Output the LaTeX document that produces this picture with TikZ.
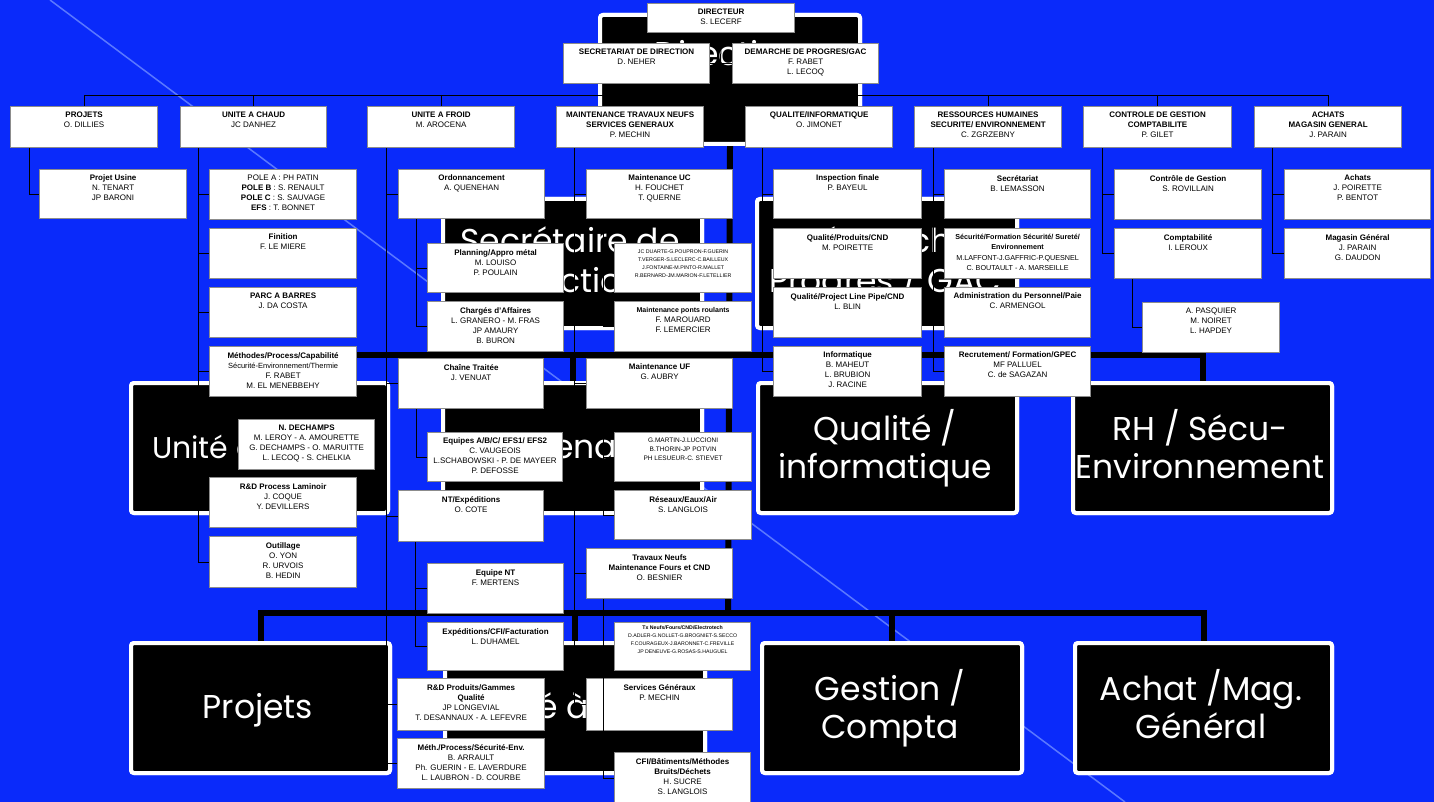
\documentclass[tikz,border=0pt]{standalone}
\usepackage{fontspec}
\setmainfont{Liberation Sans}
\newfontfamily\bigf{Poppins}
\usetikzlibrary{calc}
\definecolor{bg}{RGB}{10,42,250}
\definecolor{diagc}{RGB}{90,120,255}
\tikzset{
  obox/.style={draw=black!45, line width=1.2pt, fill=white, inner sep=0pt, rectangle},
  otext/.style={inner sep=0pt, align=center, font=\fontsize{8}{10}\selectfont, anchor=north},
  bbox/.style={draw=white, line width=4pt, fill=black, rounded corners=3pt, inner sep=0pt, rectangle},
  btext/.style={text=white, font=\bigf\fontsize{33}{38}\selectfont, inner sep=0pt, anchor=base},
  trunk/.style={line width=6pt, black},
  wire/.style={line width=1pt, black},
}
\newcommand\OB[7][]{%
  \node[obox, minimum width=#5pt, minimum height=#6pt, anchor=north west] (#2) at (#3,#4) {};
  \node[otext,#1] (#2t) at ([yshift=-6pt]#2.north) {#7};}
\newcommand\BB[5]{%
  \node[bbox, minimum width=#4pt, minimum height=#5pt, anchor=north west] (#1) at (#2,#3) {};}
\begin{document}
\begin{tikzpicture}[x=1pt,y=-1pt]
\useasboundingbox (0,0) rectangle (1434,802);
\fill[bg] (0,0) rectangle (1434,802);
\draw[diagc, line width=1.5pt] (50,0) -- (1125,802);

% ---------- background chart ----------
\coordinate (j2) at (728,355);
\coordinate (j3) at (728,613);
\BB{bdir}{598}{13}{260}{129}
\BB{bsec}{441}{197}{259}{129}
\BB{bdem}{755}{197}{260}{129}
\BB{buac}{129}{381}{257}{130}
\BB{bmtn}{441}{381}{259}{130}
\BB{bqual}{756}{381}{259}{130}
\BB{brh}{1071}{381}{259}{130}
\BB{bproj}{129}{641}{259}{130}
\BB{buaf}{443}{641}{260}{130}
\BB{bgest}{760}{641}{260}{130}
\BB{bach}{1073}{641}{257}{130}
\draw[trunk] (bdir.south) -- (j3);
\draw[trunk] (buac.north) |- (j2) -| (brh.north);
\draw[trunk] (bmtn.north) -- (bmtn.north |- j2);
\draw[trunk] (bqual.north) -- (bqual.north |- j2);
\draw[trunk] (bproj.north) |- (j3) -| (bach.north);
\draw[trunk] (buaf.north) -- (buaf.north |- j3);
\draw[trunk] (bgest.north) -- (bgest.north |- j3);
% boxes again over the trunk ends
\BB{bdir}{598}{13}{260}{129}
\BB{bsec}{441}{197}{259}{129}
\BB{bdem}{755}{197}{260}{129}
\BB{buac}{129}{381}{257}{130}
\BB{bmtn}{441}{381}{259}{130}
\BB{bqual}{756}{381}{259}{130}
\BB{brh}{1071}{381}{259}{130}
\BB{bproj}{129}{641}{259}{130}
\BB{buaf}{443}{641}{260}{130}
\BB{bgest}{760}{641}{260}{130}
\BB{bach}{1073}{641}{257}{130}
\node[btext] (tdir) at (728,66) {Direction};
\node[btext] (tsec1) at (570,253) {Secrétaire de};
\node[btext] (tsec2) at (570,292) {direction};
\node[btext] (tdem1) at (885,253) {Démarche};
\node[btext] (tdem2) at (885,292) {Progrès / GAC};
\node[btext, font=\bigf\fontsize{30}{36}\selectfont] (tuac) at (257,458) {Unité à chaud};
\node[btext] (tmtn) at (570,458) {Maintenance};
\node[btext] (tqual1) at (885,440) {Qualité /};
\node[btext] (tqual2) at (885,478) {informatique};
\node[btext] (trh1) at (1200,440) {RH / Sécu-};
\node[btext] (trh2) at (1200,478) {Environnement};
\node[btext] (tproj) at (258,718) {Projets};
\node[btext] (tuaf) at (573,718) {Unité à froid};
\node[btext] (tgest1) at (890,700) {Gestion /};
\node[btext] (tgest2) at (890,738) {Compta};
\node[btext] (tach1) at (1201,700) {Achat /Mag.};
\node[btext] (tach2) at (1201,738) {Général};

% ---------- foreground org chart ----------
\OB{dir}{647}{3}{147}{29}{\textbf{DIRECTEUR}\\S. LECERF}
\OB{sec}{563}{43}{146}{40}{\textbf{SECRETARIAT DE DIRECTION}\\D. NEHER}
\OB{dem}{732}{43}{146}{40}{\textbf{DEMARCHE DE PROGRES/GAC}\\F. RABET\\L. LECOQ}
\OB{projets}{10}{106}{147}{41}{\textbf{PROJETS}\\O. DILLIES}
\OB{uac}{180}{106}{146}{41}{\textbf{UNITE A CHAUD}\\JC DANHEZ}
\OB{uaf}{367}{106}{147}{41}{\textbf{UNITE A FROID}\\M. AROCENA}
\OB{mtn}{556}{106}{147}{41}{\textbf{MAINTENANCE TRAVAUX NEUFS}\\\textbf{SERVICES GENERAUX}\\P. MECHIN}
\OB{qual}{745}{106}{147}{41}{\textbf{QUALITE/INFORMATIQUE}\\O. JIMONET}
\OB{rh}{914}{106}{147}{41}{\textbf{RESSOURCES HUMAINES}\\\textbf{SECURITE/ ENVIRONNEMENT}\\C. ZGRZEBNY}
\OB{cg}{1083}{106}{148}{41}{\textbf{CONTROLE DE GESTION}\\\textbf{COMPTABILITE}\\P. GILET}
\OB{ach}{1254}{106}{147}{41}{\textbf{ACHATS}\\\textbf{MAGASIN GENERAL}\\J. PARAIN}

\coordinate (bar) at (720,96);
\draw[wire] (dir.south) -- (bar);
\draw[wire] (sec.east) -- (dem.west);
\draw[wire] (projets.north) -- ++(0,-10) -| (ach.north);
\foreach \b in {uac,uaf,mtn,qual,rh,cg} \draw[wire] (\b.north) -- ++(0,-10);

\OB{usine}{39}{169}{147}{49}{\textbf{Projet Usine}\\N. TENART\\JP BARONI}
\OB{pole}{209}{169}{147}{50}{POLE A : PH PATIN\\\textbf{POLE B} : S. RENAULT\\\textbf{POLE C} : S. SAUVAGE\\\textbf{EFS} : T. BONNET}
\OB{fini}{209}{228}{147}{50}{\textbf{Finition}\\F. LE MIERE}
\OB{parc}{209}{287}{147}{50}{\textbf{PARC A BARRES}\\J. DA COSTA}
\OB{meth}{209}{346}{147}{50}{\textbf{Méthodes/Process/Capabilité}\\{\fontsize{7.5}{10}\selectfont Sécurité-Environnement/Thermie}\\F. RABET\\M. EL MENEBBEHY}
\OB{dech}{238}{419}{136}{50}{\textbf{N. DECHAMPS}\\M. LEROY - A. AMOURETTE\\G. DECHAMPS - O. MARUITTE\\L. LECOQ - S. CHELKIA}
\OB{rdl}{209}{477}{147}{50}{\textbf{R\&D Process Laminoir}\\J. COQUE\\Y. DEVILLERS}
\OB{outil}{209}{536}{147}{51}{\textbf{Outillage}\\O. YON\\R. URVOIS\\B. HEDIN}

\OB{ordo}{398}{169}{146}{49}{\textbf{Ordonnancement}\\A. QUENEHAN}
\OB{plan}{427}{243}{136}{49}{\textbf{Planning/Appro métal}\\M. LOUISO\\P. POULAIN}
\OB{charg}{427}{301}{136}{50}{\textbf{Chargés d'Affaires}\\L. GRANERO - M. FRAS\\JP AMAURY\\B. BURON}
\OB{chaine}{398}{358}{145}{50}{\textbf{Chaîne Traitée}\\J. VENUAT}
\OB{equip}{427}{432}{135}{49}{\textbf{Equipes A/B/C/ EFS1/ EFS2}\\C. VAUGEOIS\\L.SCHABOWSKI - P. DE MAYEER\\P. DEFOSSE}
\OB{ntexp}{398}{490}{145}{51}{\textbf{NT/Expéditions}\\O. COTE}
\OB{eqnt}{427}{563}{136}{50}{\textbf{Equipe NT}\\F. MERTENS}
\OB{expcfi}{427}{622}{136}{48}{\textbf{Expéditions/CFI/Facturation}\\L. DUHAMEL}
\OB{rdprod}{397}{678}{147}{52}{\textbf{R\&D Produits/Gammes}\\\textbf{Qualité}\\JP LONGEVIAL\\T. DESANNAUX - A. LEFEVRE}
\OB{methenv}{397}{738}{147}{50}{\textbf{Méth./Process/Sécurité-Env.}\\B. ARRAULT\\Ph. GUERIN - E. LAVERDURE\\L. LAUBRON - D. COURBE}

\OB{muc}{586}{169}{146}{49}{\textbf{Maintenance UC}\\H. FOUCHET\\T. QUERNE}
\OB[font=\fontsize{5.3}{7.7}\selectfont, yshift=-1pt]{duarte}{614}{243}{137}{49}{JC DUARTE-G.POUPRON-F.GUERIN\\T.VERGER-S.LECLERC-C.BAILLEUX\\J.FONTAINE-M.PINTO-R.MALLET\\R.BERNARD-JM.MARION-F.LETELLIER}
\OB{ponts}{614}{301}{137}{50}{{\fontsize{7}{10}\selectfont\textbf{Maintenance ponts roulants}}\\F. MAROUARD\\F. LEMERCIER}
\OB{muf}{586}{358}{146}{50}{\textbf{Maintenance UF}\\G. AUBRY}
\OB[font=\fontsize{6.5}{9}\selectfont]{gmartin}{614}{432}{137}{49}{G.MARTIN-J.LUCCIONI\\B.THORIN-JP POTVIN\\PH LESUEUR-C. STIEVET}
\OB{reseaux}{614}{490}{137}{49}{\textbf{Réseaux/Eaux/Air}\\S. LANGLOIS}
\OB{tvneufs}{586}{548}{146}{50}{\textbf{Travaux Neufs}\\\textbf{Maintenance Fours et CND}\\O. BESNIER}
\OB[font=\fontsize{5.2}{7.9}\selectfont, yshift=2pt]{txneufs}{614}{622}{136}{48}{\textbf{Tx Neufs/Fours/CND/Electrotech}\\D.ADLER-G.NOLLET-G.BROGNIET-S.SECCO\\F.COURAGEUX-J.BARONNET-C.FREVILLE\\JP DENEUVE-G.ROSAS-S.HAUGUEL}
\OB{servgen}{586}{678}{146}{52}{\textbf{Services Généraux}\\P. MECHIN}
\OB{cfibat}{614}{752}{136}{52}{\textbf{CFI/Bâtiments/Méthodes}\\\textbf{Bruits/Déchets}\\H. SUCRE\\S. LANGLOIS}

\OB{insp}{773}{169}{148}{49}{\textbf{Inspection finale}\\P. BAYEUL}
\OB{qprod}{773}{228}{148}{50}{\textbf{Qualité/Produits/CND}\\M. POIRETTE}
\OB{qpipe}{773}{287}{148}{50}{\textbf{Qualité/Project Line Pipe/CND}\\L. BLIN}
\OB{info}{773}{346}{148}{50}{\textbf{Informatique}\\B. MAHEUT\\L. BRUBION\\J. RACINE}

\OB{secr}{944}{169}{146}{49}{\textbf{Secrétariat}\\B. LEMASSON}
\OB[font=\fontsize{7.2}{10.4}\selectfont]{secu}{944}{228}{146}{50}{\textbf{Sécurité/Formation Sécurité/ Sureté/}\\\textbf{Environnement}\\M.LAFFONT-J.GAFFRIC-P.QUESNEL\\C. BOUTAULT - A. MARSEILLE}
\OB{admin}{944}{287}{146}{50}{\textbf{Administration du Personnel/Paie}\\C. ARMENGOL}
\OB{recru}{944}{346}{146}{50}{\textbf{Recrutement/ Formation/GPEC}\\MF PALLUEL\\C. de SAGAZAN}

\OB{cdg}{1114}{169}{147}{50}{\textbf{Contrôle de Gestion}\\S. ROVILLAIN}
\OB{compta}{1114}{228}{147}{50}{\textbf{Comptabilité}\\I. LEROUX}
\OB{pasq}{1142}{302}{137}{50}{A. PASQUIER\\M. NOIRET\\L. HAPDEY}
\OB{achats}{1284}{169}{146}{50}{\textbf{Achats}\\J. POIRETTE\\P. BENTOT}
\OB{magasin}{1284}{228}{146}{50}{\textbf{Magasin Général}\\J. PARAIN\\G. DAUDON}

% ---------- connectors to children ----------
\draw[wire] ([xshift=19pt]projets.south west) |- (usine.west);
\foreach \c in {pole,fini,parc,meth,rdl,outil} \draw[wire] ([xshift=18pt]uac.south west) |- (\c.west);
\draw[wire] ([xshift=18pt]meth.south west) |- (dech.west);
\foreach \c in {ordo,chaine,ntexp,rdprod,methenv} \draw[wire] ([xshift=19pt]uaf.south west) |- (\c.west);
\foreach \c in {plan,charg} \draw[wire] ([xshift=18pt]ordo.south west) |- (\c.west);
\draw[wire] ([xshift=18pt]chaine.south west) |- (equip.west);
\foreach \c in {eqnt,expcfi} \draw[wire] ([xshift=17pt]ntexp.south west) |- (\c.west);
\foreach \c in {muc,muf,tvneufs,servgen} \draw[wire] ([xshift=18pt]mtn.south west) |- (\c.west);
\foreach \c in {duarte,ponts} \draw[wire] ([xshift=17pt]muc.south west) |- (\c.west);
\foreach \c in {gmartin,reseaux} \draw[wire] ([xshift=17pt]muf.south west) |- (\c.west);
\foreach \c in {txneufs,cfibat} \draw[wire] ([xshift=17pt]tvneufs.south west) |- (\c.west);
\foreach \c in {insp,qprod,qpipe,info} \draw[wire] ([xshift=17pt]qual.south west) |- (\c.west);
\foreach \c in {secr,secu,admin,recru} \draw[wire] ([xshift=19pt]rh.south west) |- (\c.west);
\foreach \c in {cdg,compta} \draw[wire] ([xshift=19pt]cg.south west) |- (\c.west);
\draw[wire] ([xshift=18pt]compta.south west) |- (pasq.west);
\foreach \c in {achats,magasin} \draw[wire] ([xshift=18pt]ach.south west) |- (\c.west);
\end{tikzpicture}
\end{document}
